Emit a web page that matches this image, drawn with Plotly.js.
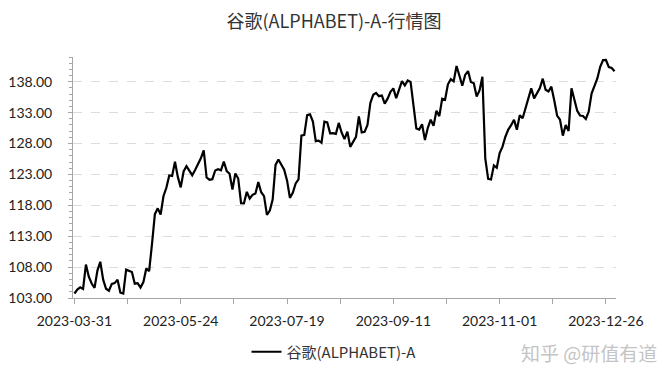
<!DOCTYPE html>
<html>
<head>
<meta charset="utf-8">
<script src="https://cdn.plot.ly/plotly-3.0.1.min.js"></script>
<style>html,body{margin:0;padding:0;background:#fff;}#chart{width:668px;height:376px;}</style>
</head>
<body>
<div id="chart"></div>
<script>
const chartTitle = "谷歌(ALPHABET)-A-行情图";
const seriesName = "谷歌(ALPHABET)-A";
const watermark = "知乎 @研值有道";

const dates = [
"2023-03-31",
"2023-04-03","2023-04-04","2023-04-05","2023-04-06","2023-04-10","2023-04-11","2023-04-12","2023-04-13","2023-04-14","2023-04-17","2023-04-18","2023-04-19","2023-04-20","2023-04-21","2023-04-24","2023-04-25","2023-04-26","2023-04-27","2023-04-28",
"2023-05-01","2023-05-02","2023-05-03","2023-05-04","2023-05-05","2023-05-08","2023-05-09","2023-05-10","2023-05-11","2023-05-12","2023-05-15","2023-05-16","2023-05-17","2023-05-18","2023-05-19","2023-05-22","2023-05-23","2023-05-24","2023-05-25","2023-05-26","2023-05-30","2023-05-31",
"2023-06-01","2023-06-02","2023-06-05","2023-06-06","2023-06-07","2023-06-08","2023-06-09","2023-06-12","2023-06-13","2023-06-14","2023-06-15","2023-06-16","2023-06-20","2023-06-21","2023-06-22","2023-06-23","2023-06-26","2023-06-27","2023-06-28","2023-06-29","2023-06-30",
"2023-07-03","2023-07-05","2023-07-06","2023-07-07","2023-07-10","2023-07-11","2023-07-12","2023-07-13","2023-07-14","2023-07-17","2023-07-18","2023-07-19","2023-07-20","2023-07-21","2023-07-24","2023-07-25","2023-07-26","2023-07-27","2023-07-28","2023-07-31",
"2023-08-01","2023-08-02","2023-08-03","2023-08-04","2023-08-07","2023-08-08","2023-08-09","2023-08-10","2023-08-11","2023-08-14","2023-08-15","2023-08-16","2023-08-17","2023-08-18","2023-08-21","2023-08-22","2023-08-23","2023-08-24","2023-08-25","2023-08-28","2023-08-29","2023-08-30","2023-08-31",
"2023-09-01","2023-09-05","2023-09-06","2023-09-07","2023-09-08","2023-09-11","2023-09-12","2023-09-13","2023-09-14","2023-09-15","2023-09-18","2023-09-19","2023-09-20","2023-09-21","2023-09-22","2023-09-25","2023-09-26","2023-09-27","2023-09-28","2023-09-29",
"2023-10-02","2023-10-03","2023-10-04","2023-10-05","2023-10-06","2023-10-09","2023-10-10","2023-10-11","2023-10-12","2023-10-13","2023-10-16","2023-10-17","2023-10-18","2023-10-19","2023-10-20","2023-10-23","2023-10-24","2023-10-25","2023-10-26","2023-10-27","2023-10-30","2023-10-31",
"2023-11-01","2023-11-02","2023-11-03","2023-11-06","2023-11-07","2023-11-08","2023-11-09","2023-11-10","2023-11-13","2023-11-14","2023-11-15","2023-11-16","2023-11-17","2023-11-20","2023-11-21","2023-11-22","2023-11-24","2023-11-27","2023-11-28","2023-11-29","2023-11-30",
"2023-12-01","2023-12-04","2023-12-05","2023-12-06","2023-12-07","2023-12-08","2023-12-11","2023-12-12","2023-12-13","2023-12-14","2023-12-15","2023-12-18","2023-12-19","2023-12-20","2023-12-21","2023-12-22","2023-12-26","2023-12-27","2023-12-28","2023-12-29"
];

const prices = [
103.73,
104.36,104.72,104.47,108.42,106.44,105.35,104.64,107.43,108.87,105.97,104.50,104.18,105.29,105.41,105.97,103.85,103.71,107.59,107.34,
107.20,105.32,105.41,104.69,105.57,107.77,107.35,111.75,116.57,117.51,116.51,119.51,120.84,122.83,122.76,125.05,122.56,120.90,123.48,124.35,123.64,122.87,
123.72,124.67,125.61,126.90,122.50,122.14,122.23,123.64,123.83,123.67,125.09,123.53,123.10,120.55,123.15,122.34,118.34,118.33,120.18,119.10,119.70,
119.90,121.75,120.11,119.48,116.45,117.14,118.93,124.54,125.42,124.65,123.76,122.03,119.20,120.02,121.53,122.21,129.27,129.40,132.58,132.72,
131.55,128.38,128.45,128.11,131.53,131.40,129.66,129.69,129.56,131.33,129.78,128.70,129.92,127.46,128.37,129.08,132.37,129.78,129.88,131.01,134.57,135.88,136.17,
135.66,135.77,134.46,135.26,136.38,136.92,135.34,136.71,138.10,137.40,138.21,137.96,133.74,130.44,130.25,131.11,128.57,130.54,131.85,130.86,
133.30,132.43,135.24,135.07,137.58,138.42,138.06,140.55,138.97,137.36,139.10,139.72,137.96,137.75,135.60,136.59,138.81,125.61,122.28,122.17,124.46,124.08,
126.45,127.49,129.10,130.25,130.97,131.84,130.24,132.59,132.09,133.62,135.43,136.93,135.31,136.25,136.97,138.49,136.69,136.41,137.20,134.99,132.53,
131.86,129.27,130.99,130.02,136.93,134.99,133.29,132.52,132.45,131.98,133.17,136.07,137.18,138.52,140.42,141.49,141.52,140.37,140.23,139.69
];

const yTicks = [103, 108, 113, 118, 123, 128, 133, 138];
const labelStep = 37;

const idx = dates.map((d, i) => i);
const majorVals = [], majorText = [], minorVals = [];
for (let i = 0; i < dates.length; i += labelStep) { majorVals.push(i); majorText.push(dates[i]); }
for (let i = labelStep / 2; i < dates.length; i += labelStep) minorVals.push(i);

const fontLatin = "Lato, 'Noto Sans CJK SC', sans-serif";
const axisColor = "#a6a6a6";

const trace = {
  x: idx, y: prices, type: "scatter", mode: "lines", name: seriesName,
  line: {color: "#000000", width: 2.2},
  customdata: dates, hovertemplate: "%{customdata}: %{y:.2f}<extra></extra>"
};

const layout = {
  width: 668, height: 376,
  paper_bgcolor: "#ffffff", plot_bgcolor: "#ffffff",
  margin: {l: 73, r: 52, t: 57, b: 78},
  title: {text: chartTitle, x: 0.5, xanchor: "center", y: 1 - 22/376, yanchor: "middle",
          font: {family: "'Noto Sans CJK SC', sans-serif", size: 18, color: "#333333"}},
  showlegend: true,
  legend: {orientation: "h", xref: "container", yref: "container", x: 0.5, xanchor: "center",
           y: 1 - 352/376, yanchor: "middle",
           font: {family: "'Noto Sans CJK SC', sans-serif", size: 15, color: "#333333"}},
  xaxis: {
    range: [-0.5, dates.length - 0.5], showgrid: false, zeroline: false,
    showline: true, linecolor: axisColor, linewidth: 1,
    tickmode: "array", tickvals: majorVals, ticktext: majorText,
    ticks: "outside", ticklen: 5, tickcolor: axisColor, ticklabelstandoff: 5,
    tickfont: {family: fontLatin, size: 14, color: "#222222"},
    minor: {tickmode: "array", tickvals: minorVals, ticks: "outside", ticklen: 5, tickcolor: axisColor, showgrid: false}
  },
  yaxis: {
    range: [103, 142], zeroline: false,
    showline: true, linecolor: axisColor, linewidth: 1,
    tickmode: "array", tickvals: yTicks, tickformat: ".2f",
    ticks: "outside", ticklen: 4, tickcolor: axisColor, ticklabelstandoff: 13,
    tickfont: {family: fontLatin, size: 14, color: "#222222"},
    showgrid: true, gridcolor: "#dcdcdc", gridwidth: 1, griddash: "dash",
    minor: {dtick: 1, tick0: 103, ticks: "outside", ticklen: 3, tickcolor: axisColor, showgrid: false}
  },
  annotations: [{
    text: watermark, xref: "paper", yref: "paper", x: 1.08, xanchor: "right",
    y: -54/241, yanchor: "middle", showarrow: false,
    font: {family: "'Noto Sans CJK SC', sans-serif", size: 19, color: "#c4c4c4"}
  }]
};

Plotly.newPlot("chart", [trace], layout, {displayModeBar: false, staticPlot: true});
</script>
</body>
</html>
